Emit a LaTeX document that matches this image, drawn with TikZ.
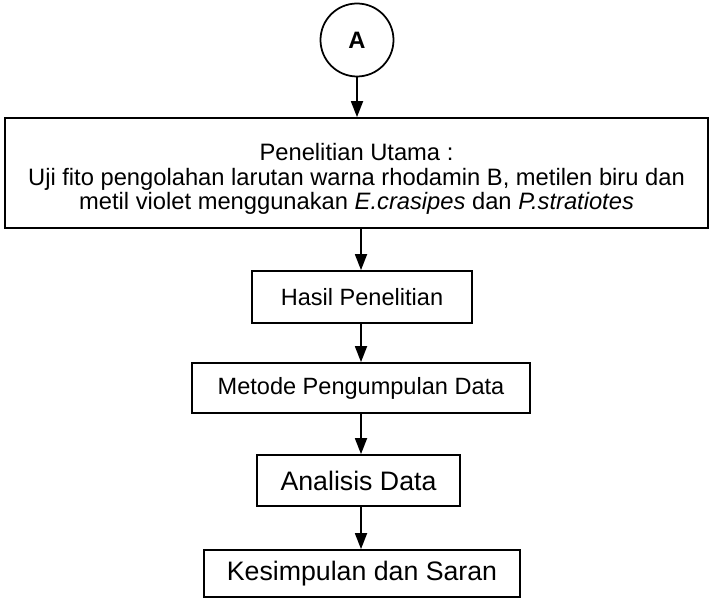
\documentclass[tikz,border=0pt]{standalone}
\usepackage{fontspec}
\setmainfont{Liberation Sans}
\usetikzlibrary{arrows.meta,positioning}

\begin{document}
\begin{tikzpicture}[
  box/.style={draw,line width=1pt,inner sep=0pt,align=center},
  arr/.style={-{Triangle[width=0.24cm,length=0.32cm]},line width=1pt},
  ]

\useasboundingbox (0,0) rectangle (14.2,-11.96);

% start
\path
(7.14,-0.80)  node[box,circle,minimum size=1.46cm,font=\fontsize{13.5}{14}\selectfont\bfseries] (A) {A}
(7.13,-3.46)  node[box,minimum width=14.06cm,minimum height=2.20cm,font=\fontsize{13.5}{13.9}\selectfont] (utama)
              {\rule{0pt}{16.6pt}Penelitian Utama :\\Uji fito pengolahan larutan warna rhodamin B, metilen biru dan\\metil violet menggunakan \textit{E.crasipes} dan \textit{P.stratiotes}}
(7.24,-5.94)  node[box,minimum width=4.40cm,minimum height=1.04cm,font=\fontsize{13.4}{14}\selectfont] (hasil) {Hasil Penelitian}
(7.22,-7.76)  node[box,minimum width=6.76cm,minimum height=1.00cm,font=\fontsize{13.4}{14}\selectfont] (metode) {Metode Pengumpulan Data}
(7.17,-9.61)  node[box,minimum width=4.06cm,minimum height=1.02cm,font=\fontsize{15.2}{16}\selectfont] (analisis) {Analisis Data}
(7.24,-11.47) node[box,minimum width=6.32cm,minimum height=0.94cm,font=\fontsize{15.2}{16}\selectfont] (simpul) {Kesimpulan dan Saran}
;

% arrows
\draw[arr] (A.south) -- (A.south |- utama.north);
\draw[arr] (utama.south -| 7.22,0) -- (hasil.north -| 7.22,0);
\draw[arr] (hasil.south -| 7.22,0) -- (metode.north -| 7.22,0);
\draw[arr] (metode.south -| 7.22,0) -- (analisis.north -| 7.22,0);
\draw[arr] (analisis.south -| 7.22,0) -- (simpul.north -| 7.22,0);

\end{tikzpicture}
\end{document}
